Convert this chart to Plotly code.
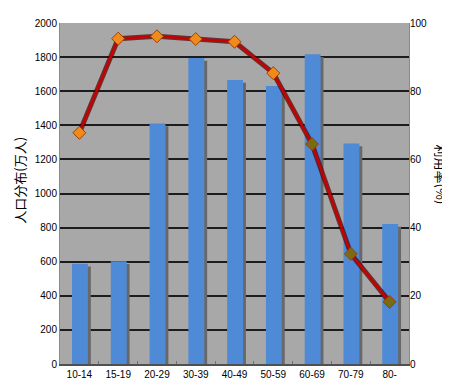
import plotly.graph_objects as go

categories = ["10-14", "15-19", "20-29", "30-39", "40-49", "50-59", "60-69", "70-79", "80-"]
population = [588, 602, 1411, 1795, 1665, 1631, 1817, 1293, 821]
usage_rate = [67.8, 95.4, 96.1, 95.3, 94.5, 85.3, 64.5, 32.3, 18.2]
left_ticks = list(range(0, 2001, 200))
right_ticks = list(range(0, 101, 20))

bar_w = 0.41
bar_off = -bar_w / 2 + 0.015
shadow_dx = 0.075
shadow_drop = 16

marker_colors = ["#f08a1a"] * 6 + ["#7a6a14"] * 3
tick_font = dict(family="Liberation Sans, Arial, sans-serif", size=10, color="#000000")

fig = go.Figure()
fig.add_trace(go.Bar(
    x=categories, y=[v - shadow_drop for v in population],
    width=bar_w, offset=bar_off + shadow_dx,
    marker=dict(color="#686868", line=dict(width=0)),
    hoverinfo="skip", showlegend=False,
))
fig.add_trace(go.Bar(
    x=categories, y=population,
    width=bar_w, offset=bar_off,
    marker=dict(color="#4f8ad6", line=dict(width=0)),
    name="人口分布", showlegend=False,
))
fig.add_trace(go.Scatter(
    x=categories, y=usage_rate, yaxis="y2", mode="lines",
    line=dict(color="rgba(70,0,0,0.7)", width=5),
    hoverinfo="skip", showlegend=False,
))
fig.add_trace(go.Scatter(
    x=categories, y=usage_rate, yaxis="y2", mode="lines+markers",
    line=dict(color="#c80000", width=2.5),
    marker=dict(symbol="diamond", size=10, color=marker_colors,
                line=dict(color="#a04000", width=1)),
    name="利用率", showlegend=False,
))

fig.update_layout(
    width=450, height=381,
    margin=dict(l=52, r=49, t=9, b=23),
    paper_bgcolor="#ffffff",
    plot_bgcolor="#a8a8a8",
    barmode="overlay",
    xaxis=dict(
        type="category", tickfont=tick_font,
        showline=True, linecolor="#505050", linewidth=2, mirror=False,
        ticks="inside", tickson="boundaries", ticklen=3, tickcolor="#707070",
        showgrid=False, range=[-0.5, 8.5],
    ),
    yaxis=dict(
        range=[0, 2000], tickvals=left_ticks, tickfont=tick_font,
        showgrid=True, gridcolor="#1c1c1c", gridwidth=1.5,
        showline=True, linecolor="#8a8a8a", linewidth=1, mirror=True,
        ticks="", zeroline=False,
    ),
    yaxis2=dict(
        range=[0, 100], tickvals=right_ticks, tickfont=tick_font,
        overlaying="y", side="right", showgrid=False, zeroline=False,
        ticks="", ticklen=0,
    ),
    annotations=[
        dict(text="人口分布(万人)", xref="paper", yref="paper",
             x=-0.115, y=0.54, xanchor="center", yanchor="middle",
             showarrow=False, textangle=-90,
             font=dict(family="Noto Sans CJK JP", size=13, color="#000000")),
        dict(text="利用率(%)", xref="paper", yref="paper",
             x=1.125, y=0.555, xanchor="right", yanchor="middle",
             showarrow=False, textangle=90,
             font=dict(family="Noto Sans CJK JP", size=13, color="#000000")),
    ],
)

fig.write_html("out.html")
